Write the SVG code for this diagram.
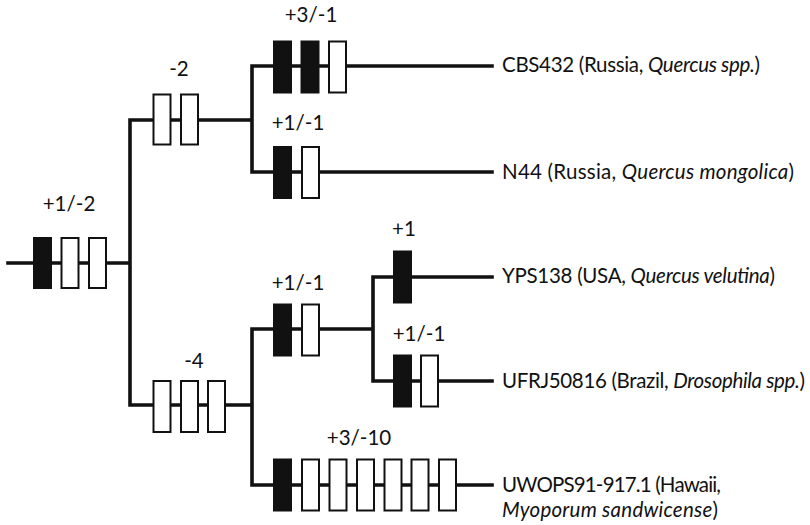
<svg xmlns="http://www.w3.org/2000/svg" width="810" height="525" viewBox="0 0 810 525">
<style>
.ln{stroke:#111;stroke-width:3.6;fill:none;stroke-linecap:square}
.b{fill:#111;stroke:#111;stroke-width:2}
.w{fill:#fff;stroke:#111;stroke-width:2}
text{font-family:Lato,"Open Sans","Liberation Sans",sans-serif;font-size:20.5px;fill:#111}
.it{font-style:italic}
.c{text-anchor:middle}
</style>
<rect width="810" height="525" fill="#fff"/>
<g id="connectors">
<path class="ln" d="M8,263H130M130,120V405M130,120H252M252,66V172M252,66H492M252,172H492M130,405H252M252,329V485M252,329H373M373,277V381M373,277H492M373,381H492M252,485H492"/>
</g>
<g id="root">
<rect class="b" x="34" y="238" width="17" height="50"/>
<rect class="w" x="61.5" y="238" width="17" height="50"/>
<rect class="w" x="89" y="238" width="17" height="50"/>
<text class="c" x="69" y="211">+1/-2</text>
</g>
<g id="n_minus2">
<rect class="w" x="153.5" y="94.5" width="17" height="50"/>
<rect class="w" x="181" y="94.5" width="17" height="50"/>
<text class="c" x="179" y="76">-2</text>
</g>
<g id="n_cbs432_branch">
<rect class="b" x="274" y="41.5" width="17" height="51"/>
<rect class="b" x="301.5" y="41.5" width="17" height="51"/>
<rect class="w" x="329" y="41.5" width="17" height="51"/>
<text class="c" x="311" y="22">+3/-1</text>
</g>
<g id="n_n44_branch">
<rect class="b" x="274" y="147" width="17" height="51"/>
<rect class="w" x="302" y="147" width="17" height="51"/>
<text class="c" x="298" y="130">+1/-1</text>
</g>
<g id="n_minus4">
<rect class="w" x="153.5" y="381" width="17" height="51"/>
<rect class="w" x="181" y="381" width="17" height="51"/>
<rect class="w" x="208" y="381" width="17" height="51"/>
<text class="c" x="194" y="368">-4</text>
</g>
<g id="n_am_branch">
<rect class="b" x="274" y="304.5" width="17" height="51"/>
<rect class="w" x="302" y="304.5" width="17" height="51"/>
<text class="c" x="298" y="290">+1/-1</text>
</g>
<g id="n_yps138_branch">
<rect class="b" x="394" y="251.5" width="17" height="51"/>
<text class="c" x="404" y="236">+1</text>
</g>
<g id="n_ufrj_branch">
<rect class="b" x="394" y="355.5" width="17" height="51"/>
<rect class="w" x="421" y="355.5" width="17" height="51"/>
<text class="c" x="419" y="341">+1/-1</text>
</g>
<g id="n_uwops_branch">
<rect class="b" x="274" y="459.5" width="17" height="51"/>
<rect class="w" x="302" y="459.5" width="17" height="51"/>
<rect class="w" x="329.5" y="459.5" width="17" height="51"/>
<rect class="w" x="357" y="459.5" width="17" height="51"/>
<rect class="w" x="384.5" y="459.5" width="17" height="51"/>
<rect class="w" x="411.5" y="459.5" width="17" height="51"/>
<rect class="w" x="439" y="459.5" width="17" height="51"/>
<text class="c" x="359" y="445">+3/-10</text>
</g>
<g id="leaf_cbs432"><text x="502" y="72" textLength="258" lengthAdjust="spacing">CBS432 (Russia, <tspan class="it">Quercus spp.</tspan>)</text></g>
<g id="leaf_n44"><text x="502" y="178.5" textLength="292" lengthAdjust="spacing">N44 (Russia, <tspan class="it">Quercus mongolica</tspan>)</text></g>
<g id="leaf_yps138"><text x="502" y="282.5" textLength="273" lengthAdjust="spacing">YPS138 (USA, <tspan class="it">Quercus velutina</tspan>)</text></g>
<g id="leaf_ufrj50816"><text x="502" y="387.5" textLength="303" lengthAdjust="spacing">UFRJ50816 (Brazil, <tspan class="it">Drosophila spp.</tspan>)</text></g>
<g id="leaf_uwops"><text x="502" y="491.5" textLength="219" lengthAdjust="spacing">UWOPS91-917.1 (Hawaii,</text><text x="502" y="516.5" textLength="216" lengthAdjust="spacing"><tspan class="it">Myoporum sandwicense</tspan>)</text></g>
</svg>
